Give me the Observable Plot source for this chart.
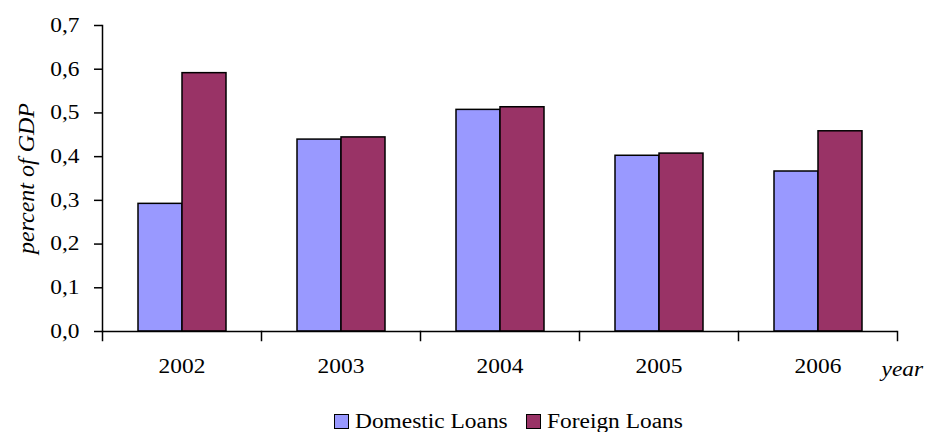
<!DOCTYPE html>
<html>
<head>
<meta charset="utf-8">
<script src="https://cdn.jsdelivr.net/npm/d3@7"></script>
<script src="https://cdn.jsdelivr.net/npm/@observablehq/plot@0.6"></script>
<style>
  html, body { margin: 0; padding: 0; background: #fff; }
  #chart { position: relative; width: 927px; height: 432px; overflow: hidden; }
  #legend {
    position: absolute; left: 334px; top: 410px;
    display: flex; align-items: center;
    font-family: "Liberation Serif", "Times New Roman", serif;
    font-size: 20px; line-height: 22px; color: #000;
  }
  .swatch { display: inline-block; width: 13px; height: 13px; border: 1px solid #000; box-sizing: content-box; }
  .lab { display: inline-block; transform: scaleX(1.17); transform-origin: 0 50%; margin-left: 6px; white-space: nowrap; }
</style>
</head>
<body>
<div id="chart"></div>
<script>
// Loans as a share of GDP, by year
const years = ["2002", "2003", "2004", "2005", "2006"];
const series = ["Domestic Loans", "Foreign Loans"];
const domestic = [0.292, 0.439, 0.507, 0.402, 0.366];
const foreign = [0.591, 0.444, 0.513, 0.407, 0.458];
const colors = ["#9999FF", "#993366"];
const yTicks = [0, 0.1, 0.2, 0.3, 0.4, 0.5, 0.6, 0.7];
const yLabel = "percent of GDP";
const xLabel = "year";

const rows = years.flatMap((year, i) => [
  {year, series: series[0], value: domestic[i]},
  {year, series: series[1], value: foreign[i]}
]);

const fmt = d => d.toFixed(1).replace(".", ",");
const serif = "'Liberation Serif', 'Times New Roman', serif";

const plot = Plot.plot({
  width: 927,
  height: 395,
  marginLeft: 100,
  marginRight: 29,
  marginTop: 25,
  marginBottom: 64,
  style: {fontFamily: serif, fontSize: "20px", color: "#000", background: "#fff"},
  fx: {domain: years, padding: 0, label: null},
  x: {domain: series, paddingOuter: 0.773, paddingInner: 0, axis: null},
  y: {domain: [0, 0.7], axis: null},
  color: {domain: series, range: colors},
  marks: [
    Plot.barY(rows, {fx: "year", x: "series", y: "value", fill: "series", stroke: "#000", strokeWidth: 1.5}),
    Plot.ruleY([0], {stroke: "#000", strokeWidth: 1.5}),
    // vertical axis line, left facet only
    Plot.frame({anchor: "left", facetAnchor: "left", strokeWidth: 1.5}),
    // category separator ticks below the baseline
    Plot.frame({anchor: "left", insetTop: 306, insetBottom: -9, strokeWidth: 1.5}),
    Plot.frame({anchor: "right", facetAnchor: "right", insetTop: 306, insetBottom: -9, strokeWidth: 1.5}),
    Plot.axisY({ticks: yTicks, tickSize: 8, tickPadding: 15, tickFormat: fmt, label: null, strokeWidth: 1.5, fontFamily: serif}),
    Plot.axisFx({anchor: "bottom", tickSize: 0, tickPadding: 27, label: null, fontFamily: serif}),
    Plot.text([yLabel], {facetAnchor: "left", frameAnchor: "left", textAnchor: "middle", rotate: -90, dx: -76, fontStyle: "italic", fontSize: 24, fontFamily: serif}),
    Plot.text([xLabel], {facetAnchor: "right", frameAnchor: "bottom-right", textAnchor: "start", lineAnchor: "bottom", dx: -16, dy: 44, fontStyle: "italic", fontFamily: serif})
  ]
});

// widen the serif lettering horizontally
const k = 1.17;
d3.select(plot).selectAll("text").each(function () {
  const t = this.getAttribute("transform") || "";
  if (t.includes("rotate")) return;
  const x = +this.getAttribute("x") || 0;
  this.setAttribute("transform", `${t} translate(${x},0) scale(${k},1) translate(${-x},0)`);
});

const chart = document.getElementById("chart");
chart.appendChild(plot);

// legend below the plot
const legend = document.createElement("div");
legend.id = "legend";
series.forEach((s, i) => {
  const sw = document.createElement("span");
  sw.className = "swatch";
  sw.style.background = colors[i];
  const lab = document.createElement("span");
  lab.className = "lab";
  lab.textContent = s;
  legend.appendChild(sw);
  legend.appendChild(lab);
});
chart.appendChild(legend);
legend.querySelectorAll(".lab").forEach((el, i) => {
  const w = el.getBoundingClientRect().width / k;
  el.style.marginRight = (w * (k - 1) + (i < series.length - 1 ? 18 : 0)) + "px";
});
</script>
</body>
</html>
